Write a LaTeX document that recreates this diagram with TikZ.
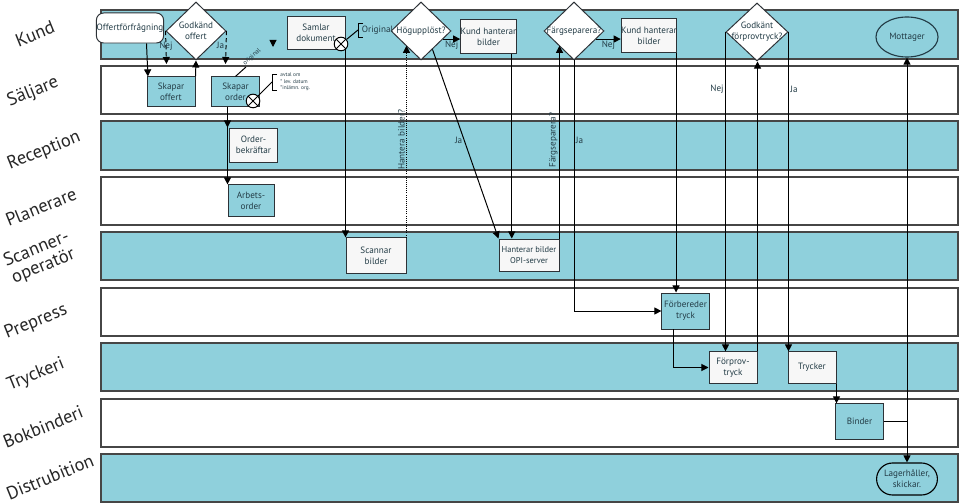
\documentclass[tikz,border=0pt]{standalone}
\usepackage{fontspec}
\setmainfont{PT Sans}
\usepackage{tikz}
\usetikzlibrary{
	arrows.meta, calc, shapes, shapes.misc, shapes.geometric, positioning
}
\definecolor{lanecyan}{RGB}{143,208,220}
\definecolor{lanegray}{RGB}{70,70,70}
\definecolor{boxgray}{RGB}{45,50,55}
\definecolor{txtcol}{RGB}{35,60,70}
\definecolor{boxwhite}{RGB}{247,247,247}
\tikzstyle{lane} = [draw=lanegray, line width=0.9pt]
\tikzstyle{lanename} = [rotate=22, font=\fontsize{13}{13}\selectfont, text=black!85, align=center]
\tikzstyle{process} = [rectangle, draw=boxgray, fill=boxwhite, text=txtcol, font=\fontsize{6.5}{7.8}\selectfont, align=center, inner sep=0pt, minimum width=1.18cm, minimum height=0.78cm]
\tikzstyle{process1} = [process, fill=lanecyan]
\tikzstyle{decision} = [diamond, draw=boxgray, fill=white, inner sep=0pt, minimum width=1.5cm, minimum height=1.45cm]
\tikzstyle{dtext} = [text=txtcol, font=\fontsize{6.5}{7.8}\selectfont, align=center]
\tikzstyle{startstop} = [ellipse, draw=txtcol, thick, fill=lanecyan, text=txtcol, font=\fontsize{6.5}{7.8}\selectfont, align=center, inner sep=0pt, minimum width=1.55cm, minimum height=1cm]
\tikzstyle{xor} = [circle, draw=black, fill=white, inner sep=0pt, minimum size=0.34cm, path picture={\draw (path picture bounding box.north west) -- (path picture bounding box.south east) (path picture bounding box.north east) -- (path picture bounding box.south west);}]
\tikzstyle{lbl} = [text=txtcol, font=\fontsize{6.5}{7.8}\selectfont, inner sep=1pt]
\tikzstyle{tiny} = [text=txtcol, font=\fontsize{3.8}{4.6}\selectfont, align=left, inner sep=0pt]

\begin{document}
\begin{tikzpicture}[x=0.025cm, y=-0.025cm, >={Triangle[length=5pt,width=5pt]}, line width=0.7pt]
	\useasboundingbox (0,0) rectangle (960,504);
	%lanes
	\draw[lane, fill=lanecyan] (101,10) rectangle (958,59);
	\draw[lane, fill=white] (101,66) rectangle (958,114);
	\draw[lane, fill=lanecyan] (101,121) rectangle (958,170);
	\draw[lane, fill=white] (101,177) rectangle (958,225);
	\draw[lane, fill=lanecyan] (101,232) rectangle (958,280);
	\draw[lane, fill=white] (101,288) rectangle (958,336);
	\draw[lane, fill=lanecyan] (101,343) rectangle (958,391);
	\draw[lane, fill=white] (101,399) rectangle (958,447);
	\draw[lane, fill=lanecyan] (101,454) rectangle (958,502);
	
	\node[lanename] (nkund) at (35,34) {Kund};
	\node[lanename] (nsalj) at (33,92) {Säljare};
	\node[lanename] (nrec) at (44,151) {Reception};
	\node[lanename] (nplan) at (41,207) {Planerare};
	\node[lanename] (nscan) at (40,258) {Scanner-\\operatör};
	\node[lanename] (npre) at (36,322) {Prepress};
	\node[lanename] (ntryck) at (36,375) {Tryckeri};
	\node[lanename] (nbok) at (43,427) {Bokbinderi};
	\node[lanename] (ndist) at (50,477) {Distrubition};
	
	%steps
	\node[process, rounded corners=0.18cm, fill=white, minimum width=1.68cm, minimum height=0.75cm] (offfr) at (130,28) {Offertförfrågning};
	\node[decision, label={[dtext]center:Godkänd\\offert}] (godoff) at (196,31) {};
	\node[process1, minimum width=1.2cm, minimum height=0.73cm] (skapoff) at (171,91.5) {Skapar\\offert};
	\node[process1, minimum width=1.22cm, minimum height=0.73cm] (skapord) at (235.5,91.5) {Skapar\\order};
	\node[xor] (xorord) at (253,101) {};
	\node[process, minimum width=1.22cm, minimum height=0.85cm] (orderbek) at (253.5,145) {Order-\\bekräftar};
	\node[process1, minimum width=1.15cm, minimum height=0.78cm] (arbets) at (251,200.5) {Arbets-\\order};
	\node[process, minimum width=1.45cm, minimum height=0.8cm] (samlar) at (316,33) {Samlar\\dokument};
	\node[decision, label={[dtext]center:Högupplöst?}] (hogupp) at (421,31) {};
	\node[process, minimum width=1.33cm, minimum height=0.83cm] (kundh1) at (488.5,36.5) {Kund hanterar\\bilder};
	\node[decision, label={[dtext]center:Färgseparera?}] (fargsep) at (574,31) {};
	\node[process, minimum width=1.35cm, minimum height=0.83cm] (kundh2) at (649,35.5) {Kund hanterar\\bilder};
	\node[decision, minimum width=1.55cm, label={[dtext]center:Godkänt\\förprovtryck?}] (godfor) at (757,32) {};
	\node[startstop] (mottag) at (907,37) {Mottager};
	\node[process, minimum width=1.5cm, minimum height=0.88cm] (scannar) at (376,255.5) {Scannar\\bilder};
	\node[process, minimum width=1.5cm, minimum height=0.8cm, font=\fontsize{6}{7.4}\selectfont] (opi) at (529,255) {Hanterar bilder\\OPI-server};
	\node[process1, minimum height=0.9cm] (forber) at (685.5,311) {Förbereder\\tryck};
	\node[process, minimum width=1.2cm] (forprov) at (733,367.5) {Förprov-\\tryck};
	\node[process, minimum width=1.2cm] (trycker) at (812,367.5) {Trycker};
	\node[process1, minimum height=0.88cm] (binder) at (859.5,421.5) {Binder};
	\node[process, rounded rectangle, draw=black, thick, fill=lanecyan, minimum width=1.52cm, minimum height=0.8cm] (lager) at (907,479) {Lagerhåller,\\skickar.};
	
	%notes
	\coordinate (brk1) at (272,82);
	\node[tiny, right=0.2cm of brk1] (avtal) {avtal om\\* lev. datum\\*inlämn. org.};
	\coordinate (brk2) at (358,30);
	\node[lbl, right=0.05cm of brk2] (orig) {Original};
	\coordinate (origend) at (246,67);
	\coordinate (origtip) at (273,47);
	\coordinate (k1) at ($(kundh1.south east)+(-5,0)$);
	
	%arrow
	\draw [->] (offfr.south -| skapoff.north west) -- ([xshift=1pt]skapoff.north west);
	\draw [->] (skapoff.north east) -- (godoff.south);
	\coordinate (nejoff) at (166.5,64);
	\coordinate (jaoff) at (225.5,64);
	\draw [->, densely dashed] (godoff.west) -- (nejoff) node[lbl, pos=0.45]{Nej};
	\draw [->, densely dashed] (godoff.east) -- (jaoff) node[lbl, pos=0.45, left]{Ja};
	\draw (skapord.north) -- (origend) node[tiny, font=\fontsize{4.6}{5}\selectfont, sloped, pos=1, anchor=south west]{original};
	\draw [->] ($(origtip)+(0,-3)$) -- (origtip);
	\draw (xorord) -- (brk1);
	\draw ($(brk1)+(5,-8)$) -- ($(brk1)+(0,-8)$) -- ($(brk1)+(0,8)$) -- ($(brk1)+(5,8)$);
	\draw [->] (skapord.south -| arbets.north west) -- (orderbek.north west -| arbets.north west);
	\draw [->] (skapord.south -| arbets.north west) -- (arbets.north west);
	\draw [->] (samlar.south east) -- (samlar.south east |- scannar.north);
	\node[xor] (xorsam) at (341,44) {};
	\draw (xorsam) -- (brk2);
	\draw ($(brk2)+(5,-7)$) -- ($(brk2)+(0,-7)$) -- ($(brk2)+(0,7)$) -- ($(brk2)+(5,7)$);
	\draw [->, densely dotted, line width=0.5pt] (scannar.north east) -- (scannar.north east |- hogupp.south west) node[lbl, pos=0.51, rotate=90, anchor=south]{Hantera bilder?};
	\draw [->] (hogupp.-20) -- (hogupp.-20 -| kundh1.west) node[lbl, midway, below]{Nej};
	\draw [->] (hogupp.-58) -- (opi.north west) node[lbl, pos=0.48, left]{Ja};
	\draw [->] (k1) -- (k1 |- opi.north);
	\draw [->] (opi.north east) -- (opi.north east |- fargsep.south west) node[lbl, pos=0.51, rotate=90, anchor=south]{Färgseparera?};
	\draw [->] (fargsep.-20) -- (fargsep.-20 -| kundh2.west) node[lbl, midway, below]{Nej};
	\draw [->] (fargsep.south) |- (forber.west) node[lbl, pos=0.16, right]{Ja};
	\draw [->] ([xshift=-0.03cm]kundh2.south east) -- ([xshift=-0.03cm]kundh2.south east |- forber.north);
	\draw [->] ([xshift=0.3cm]forber.south west) |- (forprov.west);
	\draw [->] (forprov.north east) -- (forprov.north east |- godfor.south);
	\draw [->] (godfor.west) -- (godfor.west |- forprov.north) node[lbl, pos=0.18, left]{Nej};
	\draw [->] (godfor.east) -- (godfor.east |- trycker.north) node[lbl, pos=0.18, right]{Ja};
	\draw [->] (trycker.south east) -- (trycker.south east |- binder.north);
	\draw (binder.east) -- (binder.east -| mottag.south);
	\draw [->] (binder.east -| mottag.south) -- (mottag.south);
	\draw [->] (binder.east -| mottag.south) -- (lager.north);
	
\end{tikzpicture}
\end{document}
